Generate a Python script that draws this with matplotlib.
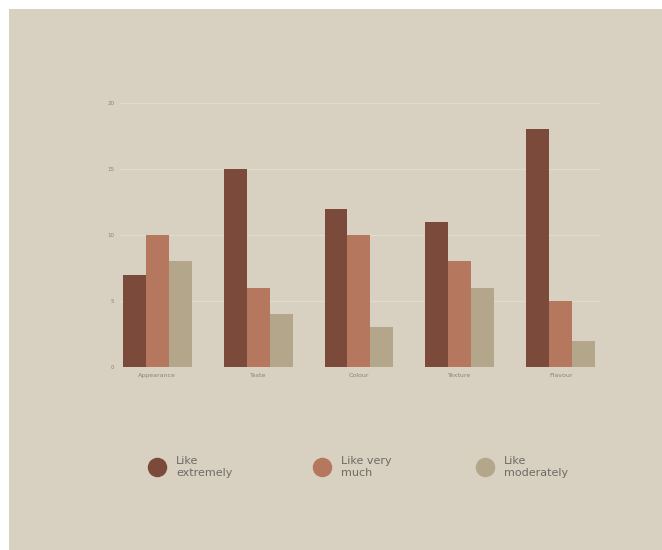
import numpy as np
import matplotlib
matplotlib.use('Agg')
import matplotlib.pyplot as plt
from matplotlib.patches import Rectangle
from matplotlib.lines import Line2D

categories = ['Appearance', 'Taste', 'Colour', 'Texture', 'Flavour']
series_names = ['Like\nextremely', 'Like very\nmuch', 'Like\nmoderately']
like_extremely = [7, 15, 12, 11, 18]
like_very_much = [10, 6, 10, 8, 5]
like_moderately = [8, 4, 3, 6, 2]
y_ticks = [0, 5, 10, 15, 20]

colors = ['#7b4a3a', '#b5775d', '#b3a68b']
bg = '#d8d0c0'

fig = plt.figure(figsize=(6.62, 5.5), dpi=100, facecolor='white')
fig.patches.append(Rectangle((9 / 662, 0), 1, 1 - 9 / 550, transform=fig.transFigure,
                             facecolor=bg, edgecolor='none', zorder=-10))

ax = fig.add_axes([120 / 662, 1 - 367 / 550, 480 / 662, (367 - 103) / 550])
ax.set_facecolor('none')
ax.set_zorder(2)

x = np.arange(len(categories))
w = 0.228
for i, vals in enumerate([like_extremely, like_very_much, like_moderately]):
    ax.bar(x + (i - 1) * w, vals, width=w, color=colors[i], zorder=3)

ax.set_xlim(-0.37, 4.39)
ax.set_ylim(0, 20)
ax.set_yticks(y_ticks)
ax.set_yticklabels([str(t) for t in y_ticks], fontsize=4, color='#8a8478')
ax.set_xticks(x)
ax.set_xticklabels(categories, fontsize=4.5, color='#8a8478')
ax.tick_params(length=0, pad=4)
ax.grid(axis='y', color='#e2dccf', linewidth=0.8, zorder=0)
for s in ax.spines.values():
    s.set_visible(False)

# legend
leg_x = [157, 322, 485]
leg_y = 467
for i, name in enumerate(series_names):
    fig.add_artist(Line2D([leg_x[i] / 662], [1 - leg_y / 550], marker='o', markersize=13,
                          color=colors[i], linestyle='none', transform=fig.transFigure))
    fig.text((leg_x[i] + 19) / 662, 1 - leg_y / 550, name, fontsize=8, color='#6e6a64',
             va='center', ha='left', linespacing=1.25)

fig.savefig('out.png', dpi=100, facecolor='white')
